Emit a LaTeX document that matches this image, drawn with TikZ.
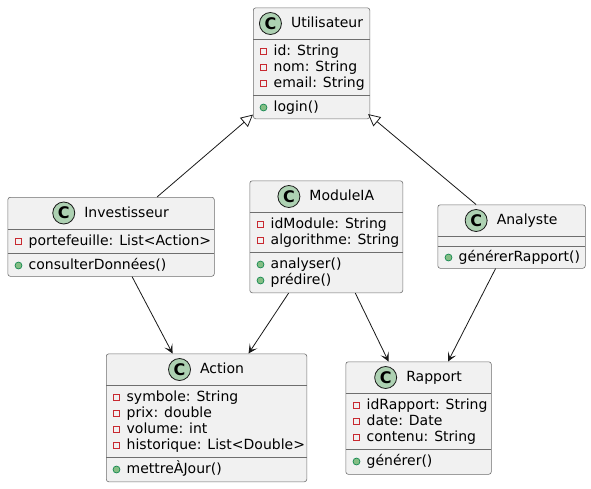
\documentclass[tikz,border=0pt]{standalone}
\usepackage{fontspec}
\setmainfont{DejaVu Sans}
\usetikzlibrary{arrows.meta, positioning, calc}
\definecolor{umlborder}{RGB}{24, 24, 24}
\definecolor{boxborder}{RGB}{110, 110, 110}
\definecolor{umlfill}{RGB}{241, 241, 241}
\definecolor{iconfill}{RGB}{173, 209, 178}
\definecolor{privred}{RGB}{200, 41, 48}
\definecolor{pubgreen}{RGB}{3, 128, 72}
\definecolor{publight}{RGB}{132, 190, 132}

\begin{document}
\begin{tikzpicture}[
    x=1pt, y=-1pt,
    font=\fontsize{14}{16}\selectfont,
    % Styles
    classbox/.style={
        rectangle,
        rounded corners=2.5pt,
        draw=boxborder,
        fill=umlfill,
        line width=0.6pt,
        anchor=north west,
        inner sep=0pt
    },
    classname/.style={
        inner sep=0pt,
        text height=11pt,
        text depth=3pt
    },
    classicon/.style={
        circle,
        draw=umlborder,
        fill=iconfill,
        line width=0.8pt,
        minimum size=22pt,
        inner sep=0pt,
        font=\fontsize{16}{16}\selectfont\bfseries
    },
    member/.style={
        anchor=west,
        inner sep=0pt,
        text height=11pt,
        text depth=3pt
    },
    privicon/.style={
        rectangle,
        draw=privred,
        line width=1pt,
        minimum width=6pt,
        minimum height=6pt,
        inner sep=0pt,
        outer sep=0pt
    },
    pubicon/.style={
        circle,
        draw=pubgreen,
        fill=publight,
        line width=0.6pt,
        minimum size=7pt,
        inner sep=0pt,
        outer sep=0pt
    },
    sepline/.style={
        draw=boxborder,
        line width=0.6pt
    },
    arrow/.style={
        -{Stealth[length=9pt, width=9pt, inset=4.5pt]},
        draw=umlborder,
        line width=0.8pt
    },
    inherit/.style={
        -{Triangle[open, length=12pt, width=12pt, fill=white]},
        draw=umlborder,
        line width=0.8pt
    }
]

\useasboundingbox (0,0) rectangle (591,488);

% --- Utilisateur (Top) ---
\node (util) [classbox, minimum width=116.5pt, minimum height=111pt] at (253,7.5) {};
\node (utilname) [classname] at ($(util.north)+(15.5,16)$) {Utilisateur};
\node (utilicon) [classicon, left=9pt of utilname] {C};
\draw [sepline] (253,39.5) -- (369.5,39.5);
\node (utilid) [member] at (273.5,51.5) {id: String};
\node (utilnom) [member] at (273.5,67.5) {nom: String};
\node (utilemail) [member] at (273.5,83.5) {email: String};
\draw [sepline] (253,95.5) -- (369.5,95.5);
\node (utillogin) [member] at (273.5,107.5) {login()};
\node (utilidvis) [privicon, left=7pt of utilid] {};
\node (utilnomvis) [privicon, left=7pt of utilnom] {};
\node (utilemailvis) [privicon, left=7pt of utilemail] {};
\node (utilloginvis) [pubicon, left=6.5pt of utillogin] {};

% --- Investisseur (Left) ---
\node (invest) [classbox, minimum width=206.5pt, minimum height=79pt] at (7.5,197) {};
\node (investname) [classname] at ($(invest.north)+(15.5,16)$) {Investisseur};
\node (investicon) [classicon, left=9pt of investname] {C};
\draw [sepline] (7.5,229) -- (214,229);
\node (investport) [member] at (28.5,241.5) {portefeuille: List<Action>};
\draw [sepline] (7.5,253) -- (214,253);
\node (investcons) [member] at (28.5,265.5) {consulterDonnées()};
\node (investportvis) [privicon, left=7pt of investport] {};
\node (investconsvis) [pubicon, left=6.5pt of investcons] {};

% --- ModuleIA (Middle) ---
\node (module) [classbox, minimum width=153pt, minimum height=112pt] at (249.5,180.5) {};
\node (modulename) [classname] at ($(module.north)+(15.5,16)$) {ModuleIA};
\node (moduleicon) [classicon, left=9pt of modulename] {C};
\draw [sepline] (249.5,212.5) -- (402.5,212.5);
\node (moduleid) [member] at (270.5,224.5) {idModule: String};
\node (modulealgo) [member] at (270.5,240.5) {algorithme: String};
\draw [sepline] (249.5,252.5) -- (402.5,252.5);
\node (moduleanal) [member] at (270.5,264.5) {analyser()};
\node (modulepred) [member] at (270.5,280.5) {prédire()};
\node (moduleidvis) [privicon, left=7pt of moduleid] {};
\node (modulealgovis) [privicon, left=7pt of modulealgo] {};
\node (moduleanalvis) [pubicon, left=6.5pt of moduleanal] {};
\node (modulepredvis) [pubicon, left=6.5pt of modulepred] {};

% --- Analyste (Right) ---
\node (analyst) [classbox, minimum width=147.5pt, minimum height=63.5pt] at (437.5,204.5) {};
\node (analystname) [classname] at ($(analyst.north)+(15.5,16)$) {Analyste};
\node (analysticon) [classicon, left=9pt of analystname] {C};
\draw [sepline] (437.5,236.5) -- (585,236.5);
\draw [sepline] (437.5,246) -- (585,246);
\node (analystgen) [member] at (458.5,257.5) {générerRapport()};
\node (analystgenvis) [pubicon, left=6.5pt of analystgen] {};

% --- Action (Bottom Left) ---
\node (action) [classbox, minimum width=200.5pt, minimum height=128pt] at (106,353.5) {};
\node (actionname) [classname] at ($(action.north)+(15.5,16)$) {Action};
\node (actionicon) [classicon, left=9pt of actionname] {C};
\draw [sepline] (106,385.5) -- (306.5,385.5);
\node (actionsym) [member] at (126.5,397.5) {symbole: String};
\node (actionprix) [member] at (126.5,413.5) {prix: double};
\node (actionvol) [member] at (126.5,429.5) {volume: int};
\node (actionhist) [member] at (126.5,445.5) {historique: List<Double>};
\draw [sepline] (106,457.5) -- (306.5,457.5);
\node (actionmaj) [member] at (126.5,469.5) {mettreÀJour()};
\node (actionsymvis) [privicon, left=7pt of actionsym] {};
\node (actionprixvis) [privicon, left=7pt of actionprix] {};
\node (actionvolvis) [privicon, left=7pt of actionvol] {};
\node (actionhistvis) [privicon, left=7pt of actionhist] {};
\node (actionmajvis) [pubicon, left=6.5pt of actionmaj] {};

% --- Rapport (Bottom Right) ---
\node (report) [classbox, minimum width=145.5pt, minimum height=112.5pt] at (345.5,361.5) {};
\node (reportname) [classname] at ($(report.north)+(15.5,16)$) {Rapport};
\node (reporticon) [classicon, left=9pt of reportname] {C};
\draw [sepline] (345.5,393.5) -- (491,393.5);
\node (reportid) [member] at (366.5,405.5) {idRapport: String};
\node (reportdate) [member] at (366.5,421.5) {date: Date};
\node (reportcont) [member] at (366.5,437.5) {contenu: String};
\draw [sepline] (345.5,449.5) -- (491,449.5);
\node (reportgen) [member] at (366.5,461.5) {générer()};
\node (reportidvis) [privicon, left=7pt of reportid] {};
\node (reportdatevis) [privicon, left=7pt of reportdate] {};
\node (reportcontvis) [privicon, left=7pt of reportcont] {};
\node (reportgenvis) [pubicon, left=6.5pt of reportgen] {};

% --- Connections ---

% Inheritance
\draw [inherit] ([xshift=46pt]invest.north) -- ([yshift=4.5pt]util.south west);
\draw [inherit] ([xshift=-35.5pt]analyst.north) -- ([xshift=-2pt, yshift=5pt]util.south east);

% Associations
\draw [arrow] ([xshift=21pt]invest.south) -- ([xshift=-34pt]action.north);
\draw [arrow] ([xshift=-37.7pt]module.south) -- ([xshift=42pt]action.north);
\draw [arrow] ([xshift=29pt]module.south) -- ([xshift=-30pt]report.north);
\draw [arrow] ([xshift=-16pt]analyst.south) -- ([xshift=29.5pt]report.north);

\end{tikzpicture}
\end{document}
